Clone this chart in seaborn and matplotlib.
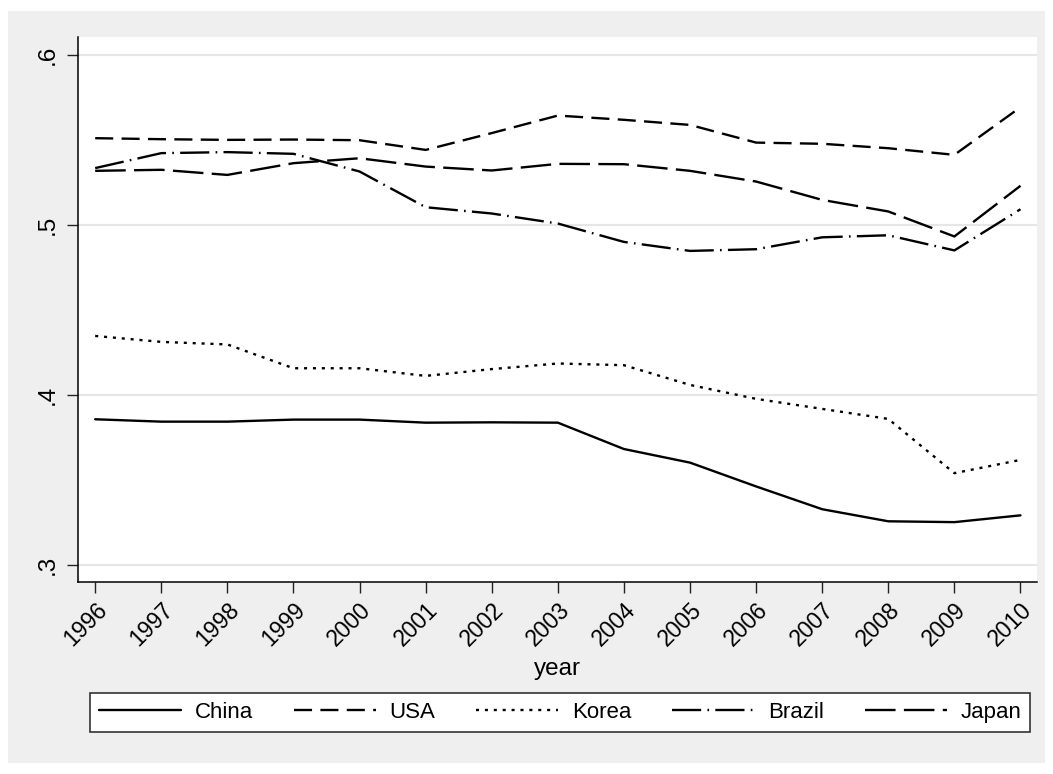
import matplotlib
matplotlib.use("Agg")
import matplotlib.pyplot as plt
from matplotlib.patches import Rectangle
from matplotlib.lines import Line2D
import pandas as pd
import seaborn as sns

# Share series by year
years = list(range(1996, 2011))
china = [0.3855, 0.3841, 0.3841, 0.3853, 0.3853, 0.3835, 0.3837, 0.3835,
         0.3680, 0.3600, 0.3460, 0.3326, 0.3255, 0.3250, 0.3290]
usa = [0.5508, 0.5502, 0.5498, 0.5500, 0.5496, 0.5439, 0.5538, 0.5641,
       0.5616, 0.5586, 0.5482, 0.5475, 0.5449, 0.5410, 0.5690]
korea = [0.4345, 0.4310, 0.4295, 0.4155, 0.4155, 0.4110, 0.4150, 0.4183,
         0.4173, 0.4057, 0.3975, 0.3916, 0.3857, 0.3538, 0.3616]
brazil = [0.5332, 0.5420, 0.5426, 0.5416, 0.5312, 0.5102, 0.5065, 0.5006,
          0.4898, 0.4845, 0.4855, 0.4925, 0.4937, 0.4848, 0.5090]
japan = [0.5316, 0.5322, 0.5292, 0.5361, 0.5390, 0.5341, 0.5318, 0.5357,
         0.5355, 0.5316, 0.5253, 0.5145, 0.5077, 0.4930, 0.5228]

countries = ["China", "USA", "Korea", "Brazil", "Japan"]
series = [china, usa, korea, brazil, japan]
y_ticks = [0.3, 0.4, 0.5, 0.6]
y_tick_labels = [".3", ".4", ".5", ".6"]

df = pd.DataFrame({
    "year": years * len(countries),
    "value": [v for s in series for v in s],
    "country": [c for c in countries for _ in years],
})

sns.set_theme(style="white")
plt.rcParams["font.family"] = ["Liberation Sans Narrow", "Liberation Sans", "DejaVu Sans"]
plt.rcParams["lines.scale_dashes"] = False

line_dashes = {
    "China": "",
    "USA": (13, 6),
    "Korea": (2.2, 4.2),
    "Brazil": (21, 4.5, 1.2, 4.5),
    "Japan": (22, 6),
}

fig = plt.figure(figsize=(10.53, 7.74), dpi=100)
fig.patch.set_facecolor("white")
W, H = 1053, 774
fig.patches.append(Rectangle((8 / W, 1 - 763 / H), (1045 - 8) / W, (763 - 11) / H,
                             transform=fig.transFigure, facecolor="#efefef",
                             edgecolor="none", zorder=-5))

ax = fig.add_axes([78 / W, 1 - 582 / H, (1037 - 78) / W, (582 - 37) / H])
ax.set_zorder(2)
ax.set_facecolor("white")

sns.lineplot(data=df, x="year", y="value", hue="country", style="country",
             hue_order=countries, style_order=countries,
             palette=["black"] * 5, dashes=line_dashes, linewidth=1.7,
             legend=False, ax=ax)

ax.set_xlim(1995.74, 2010.25)
ax.set_ylim(0.2898, 0.6103)
ax.set_yticks(y_ticks)
ax.set_yticklabels(y_tick_labels, rotation=90, va="center", fontsize=17.5)
ax.set_xticks(years)
ax.set_xticklabels([str(y) for y in years], rotation=45, ha="right",
                   rotation_mode="anchor", fontsize=16.5)
ax.tick_params(axis="both", which="major", direction="out", length=8,
               width=1, color="#222222", labelcolor="black", bottom=True, left=True)
ax.tick_params(axis="x", pad=4)
ax.tick_params(axis="y", pad=6)

ax.grid(axis="y", color="#e6e6e6", linewidth=1.5)
ax.grid(axis="x", visible=False)
for side in ["top", "right"]:
    ax.spines[side].set_visible(False)
for side in ["left", "bottom"]:
    ax.spines[side].set_color("black")
    ax.spines[side].set_linewidth(1.1)

ax.set_xlabel("year", fontsize=17.5, labelpad=5, color="black")
ax.set_ylabel("")

handles = [Line2D([0], [0], color="black", linewidth=1.7,
                  linestyle="-" if line_dashes[c] == "" else (0, line_dashes[c]))
           for c in countries]
leg = fig.legend(handles, countries, loc="center", ncol=5, mode="expand",
                 bbox_to_anchor=(90 / W, 1 - 737 / H, 940 / W, 49 / H),
                 fontsize=16, frameon=True, fancybox=False, framealpha=1,
                 handlelength=3.7, handletextpad=0.6, borderaxespad=0)
leg.get_frame().set_edgecolor("#333333")
leg.get_frame().set_linewidth(1.2)
leg.get_frame().set_facecolor("white")
for t in leg.get_texts():
    t.set_color("black")

fig.savefig("out.png", dpi=100)
